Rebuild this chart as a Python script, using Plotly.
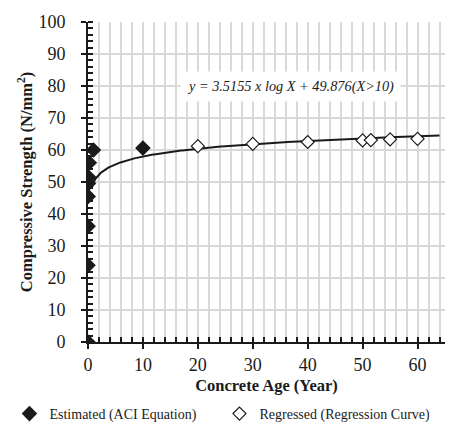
import numpy as np
import plotly.graph_objects as go

# Estimated (ACI Equation) points
est_age = [0.0, 0.01, 0.02, 0.04, 0.08, 0.15, 0.25, 1.0, 10.0]
est_strength = [0.0, 24.0, 36.2, 45.5, 49.5, 51.5, 56.0, 60.0, 60.6]

# Regressed (Regression Curve) points
reg_age = [20, 30, 40, 50, 51.5, 55, 60]
reg_strength = [61.2, 61.9, 62.5, 63.0, 63.1, 63.3, 63.5]

# Y tick values / labels
y_ticks = [0, 10, 20, 30, 40, 50, 60, 70, 80, 90, 100]

# Trendline coefficients as shown in the chart label
coef_a = 3.5155
coef_b = 49.876
curve_x = np.linspace(0.6, 64, 300)
curve_y = coef_a * np.log(curve_x) + coef_b

FONT = "Liberation Serif"
PAD = "<span style='color:rgba(0,0,0,0);font-size:12px'>00</span>"

fig = go.Figure()
fig.add_trace(go.Scatter(x=curve_x, y=curve_y, mode="lines",
                         line=dict(color="#1a1a1a", width=2),
                         showlegend=False, hoverinfo="skip"))
fig.add_trace(go.Scatter(x=est_age, y=est_strength, mode="markers",
                         name="Estimated (ACI Equation)",
                         marker=dict(symbol="diamond", size=12, color="#1a1a1a",
                                     line=dict(width=0))))
fig.add_trace(go.Scatter(x=reg_age, y=reg_strength, mode="markers",
                         name="Regressed (Regression Curve)",
                         marker=dict(symbol="diamond", size=10, color="white",
                                     line=dict(width=1.2, color="#1a1a1a"))))

fig.add_annotation(x=36.8, y=80, xref="x", yref="y",
                   text="<i>y = 3.5155 x log X + 49.876(X>10)</i>",
                   showarrow=False, bgcolor="white",
                   font=dict(family=FONT, size=14.3, color="#1a1a1a"),
                   borderpad=6)

fig.update_layout(
    width=451, height=438,
    margin=dict(l=88, r=6, t=22, b=96),
    paper_bgcolor="white", plot_bgcolor="white",
    font=dict(family=FONT, size=18, color="#1a1a1a"),
    legend=dict(orientation="h", x=-0.22, y=-0.225, xanchor="left", yanchor="middle",
                font=dict(family=FONT, size=14, color="#1a1a1a"),
                entrywidth=165, itemwidth=30),
    xaxis=dict(range=[0, 65], dtick=10, tick0=0,
               showline=True, linecolor="#1a1a1a", linewidth=2,
               ticks="outside", ticklen=5, tickwidth=1.5, tickcolor="#1a1a1a",
               showgrid=True, gridcolor="#d9d9d9", gridwidth=1.5,
               zeroline=False,
               minor=dict(dtick=2, ticks="inside", ticklen=5, tickcolor="#1a1a1a",
                          showgrid=True, gridcolor="#d9d9d9", gridwidth=1.5),
               title=dict(text="<b>Concrete Age (Year)</b>",
                          font=dict(family=FONT, size=16.5), standoff=6)),
    yaxis=dict(range=[0, 100],
               tickmode="array", tickvals=y_ticks,
               ticktext=[f"{v}{PAD}" for v in y_ticks],
               showline=True, linecolor="#1a1a1a", linewidth=2,
               ticks="outside", ticklen=5, tickwidth=1.5, tickcolor="#1a1a1a",
               showgrid=True, gridcolor="#d9d9d9", gridwidth=1.5,
               zeroline=False,
               minor=dict(dtick=2, tick0=0, ticks="inside", ticklen=5, tickcolor="#1a1a1a",
                          showgrid=False),
               title=dict(text="<b>Compressive Strength (N/mm<sup>2</sup>)</b>",
                          font=dict(family=FONT, size=16.5), standoff=2)),
)

fig.write_html("out.html")
